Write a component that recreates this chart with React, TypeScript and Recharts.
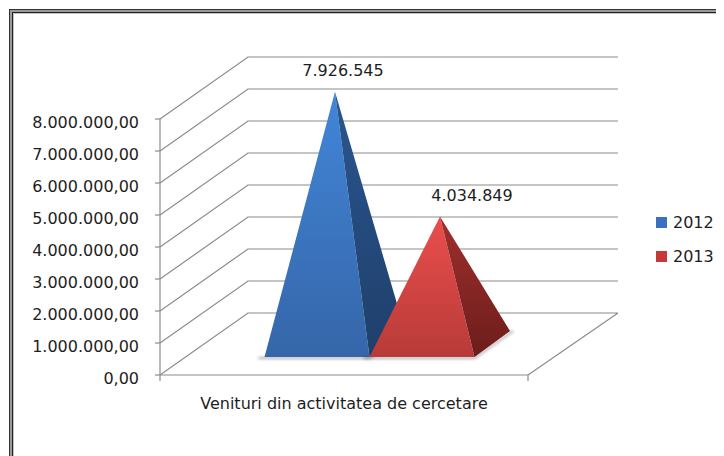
import React from "react";
import {
  BarChart,
  Bar,
  XAxis,
  YAxis,
  CartesianGrid,
  Legend,
  LabelList,
} from "recharts";

const categories = ["Venituri din activitatea de cercetare"];
const seriesNames = ["2012", "2013"];
const values2012 = [7926545];
const values2013 = [4034849];
const yTicks = [0, 1000000, 2000000, 3000000, 4000000, 5000000, 6000000, 7000000, 8000000];

const data = categories.map((name, i) => ({
  name,
  [seriesNames[0]]: values2012[i],
  [seriesNames[1]]: values2013[i],
}));

// 3d projection of the floor depth, in screen px
const DEPTH_X = 88;
const DEPTH_Y = 62;
const PLOT_BOTTOM = 375;
const GRID = "#8c8c8c";
const TEXT = "#1e1e1e";

const dots = (n: number) =>
  Math.round(n)
    .toString()
    .replace(/\B(?=(\d{3})+(?!\d))/g, ".");
const axisFmt = (v: number) => `${dots(v)},00`;

// grid line: front wall diagonal + back wall line
const gridLine = (p: any) => {
  const { x1, y1, x2 } = p;
  let d = `M${x1},${y1}L${x1 + DEPTH_X},${y1 - DEPTH_Y}L${x2 + DEPTH_X + 2},${y1 - DEPTH_Y}`;
  if (Math.abs(y1 - PLOT_BOTTOM) < 1) {
    d += `M${x2},${y1}L${x2 + DEPTH_X + 2},${y1 - DEPTH_Y}`;
    d += `M${x1},${y1}L${x1},${y1 + 6}M${x2},${y1}L${x2},${y1 + 6}`;
  }
  return (
    <path key={`grid-${p.index}`} d={d} stroke={GRID} strokeWidth={1.2} fill="none" />
  );
};

const pts = (a: number[][]) => a.map((q) => q.join(",")).join(" ");

const pyramid =
  (id: string, front: [string, string], side: [string, string]) => (props: any) => {
    const { x, y, width: w, height: h } = props;
    const bottom = y + h;
    const f1 = [x + 25.5, bottom - 18];
    const f2 = [x + w + 25.5, bottom - 18];
    const b2 = [x + w + 61, bottom - 44];
    const apex = [x + w / 2 + 43.5, bottom - 29.5 - h];
    return (
      <g>
        <defs>
          <linearGradient id={`${id}-f`} x1="0" y1="0" x2="0" y2="1">
            <stop offset="0%" stopColor={front[0]} />
            <stop offset="100%" stopColor={front[1]} />
          </linearGradient>
          <linearGradient id={`${id}-s`} x1="0" y1="0" x2="0" y2="1">
            <stop offset="0%" stopColor={side[0]} />
            <stop offset="100%" stopColor={side[1]} />
          </linearGradient>
          <filter id={`${id}-blur`} x="-20%" y="-50%" width="140%" height="200%">
            <feGaussianBlur stdDeviation="1.6" />
          </filter>
        </defs>
        <path
          d={`M${f1[0] - 6},${f1[1] + 1}L${f2[0]},${f2[1] + 1}L${b2[0] + 3},${b2[1]}`}
          stroke="#000"
          strokeOpacity={0.35}
          strokeWidth={2}
          fill="none"
          filter={`url(#${id}-blur)`}
        />
        <polygon points={pts([f1, f2, apex])} fill={`url(#${id}-f)`} />
        <polygon points={pts([f2, b2, apex])} fill={`url(#${id}-s)`} />
      </g>
    );
  };

const apexLabel = (dx: number) => (p: any) => {
  const vb = p.viewBox && typeof p.viewBox.width === "number" ? p.viewBox : p;
  const ax = vb.x + vb.width / 2 + 43.5;
  const ay = vb.y - 29.5;
  return (
    <text x={ax + dx} y={ay - 15.5} textAnchor="middle" fontSize={16} fill={TEXT}>
      {dots(Number(p.value))}
    </text>
  );
};

const renderLegend = (props: any) => (
  <div>
    {(props.payload || []).map((e: any) => (
      <div
        key={e.value}
        style={{ display: "flex", alignItems: "center", height: 34, fontSize: 16, color: TEXT }}
      >
        <span
          style={{ display: "inline-block", width: 11, height: 11, background: e.color, marginRight: 6 }}
        />
        <span>{e.value}</span>
      </div>
    ))}
  </div>
);

export default function App() {
  return (
    <div
      style={{
        position: "relative",
        width: 716,
        height: 448,
        overflow: "hidden",
        fontFamily: '"DejaVu Sans", Verdana, sans-serif',
        background: "#fff",
      }}
    >
      <div
        style={{
          position: "absolute",
          left: 1,
          top: 1,
          width: 760,
          height: 500,
          border: "1px solid #333",
          boxShadow: "inset 0 0 0 2px #9a9a9a, inset 0 0 0 3px #222, inset 0 0 0 4px #c4c4c4",
        }}
      />
      <div style={{ position: "absolute", left: -8, top: -8 }}>
        <BarChart
          width={724}
          height={456}
          data={data}
          barGap={0}
          barSize={105}
          margin={{ top: 119, right: 196, left: 0, bottom: 41 }}
        >
          <CartesianGrid vertical={false} horizontal={gridLine} />
          <XAxis
            dataKey="name"
            height={40}
            tickLine={false}
            tickSize={0}
            tickMargin={23}
            axisLine={{ stroke: GRID, strokeWidth: 1.2 }}
            tick={{ fill: TEXT, fontSize: 16 }}
          />
          <YAxis
            width={160}
            domain={[0, 8000000]}
            ticks={yTicks}
            interval={0}
            tickFormatter={axisFmt}
            tickSize={5}
            tickMargin={16}
            tickLine={{ stroke: GRID, strokeWidth: 1.2 }}
            axisLine={{ stroke: GRID, strokeWidth: 1.2 }}
            tick={{ fill: TEXT, fontSize: 16, dy: 3 }}
          />
          <Legend
            layout="vertical"
            align="center"
            verticalAlign="middle"
            content={renderLegend}
            wrapperStyle={{ left: 656, top: 205, width: 70 }}
          />
          <Bar
            dataKey="2012"
            name="2012"
            fill="#3b6fbf"
            isAnimationActive={false}
            shape={pyramid("p2012", ["#4285d8", "#3566a9"], ["#2a5690", "#1f3f6a"])}
          >
            <LabelList dataKey="2012" content={apexLabel(8)} />
          </Bar>
          <Bar
            dataKey="2013"
            name="2013"
            fill="#c5393a"
            isAnimationActive={false}
            shape={pyramid("p2013", ["#ea4e4c", "#b83b39"], ["#a02f2d", "#6c1d1b"])}
          >
            <LabelList dataKey="2013" content={apexLabel(32)} />
          </Bar>
        </BarChart>
      </div>
    </div>
  );
}
